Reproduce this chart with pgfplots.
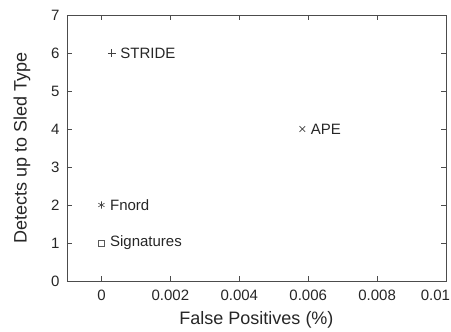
\documentclass[border=0pt]{standalone}
\usepackage{pgfplots}
\pgfplotsset{compat=1.18}
\usepackage{fontspec}
\setmainfont{Liberation Sans}
\begin{document}
\begin{tikzpicture}
\begin{axis}[
  scale only axis,
  width=379pt, height=266pt,
  xmin=-0.001, xmax=0.01,
  ymin=0, ymax=7,
  xtick={0,0.002,0.004,0.006,0.008,0.01},
  xticklabels={0,0.002,0.004,0.006,0.008,\makebox[8pt][r]{0.01}},
  ytick={0,1,...,7},
  tick align=inside,
  tick pos=both,
  major tick length=5pt,
  axis line style={black!70, line width=0.9pt},
  tick style={black!70, line width=0.8pt},
  /pgf/number format/assume math mode=true,
  tick label style={font=\fontsize{15}{17}\selectfont, black!85},
  yticklabel style={xshift=-4pt},
  xticklabel style={yshift=-5pt},
  label style={font=\fontsize{18}{20}\selectfont, black!85},
  xlabel={False Positives (\%)},
  ylabel={Detects up to Sled Type},
  xlabel style={at={(axis description cs:0.5,-0.1466)}, anchor=center},
  ylabel style={at={(axis description cs:-0.1187,0.5)}, anchor=center, rotate=0},
  scaled x ticks=false,
  clip=false,
  nodes near coords,
  point meta=explicit symbolic,
  every node near coord/.append style={anchor=west, font=\fontsize{15}{17}\selectfont, black!85, xshift=5pt},
]
\addplot[only marks, mark=+, mark size=4pt, black!75, mark options={line width=0.6pt}] coordinates {(0.0003,6) [STRIDE]};
\addplot[only marks, mark=x, mark size=4pt, black!75, mark options={line width=0.6pt}] coordinates {(0.00583,4) [APE]};
\addplot[only marks, mark=asterisk, mark size=3.6pt, black!75, mark options={line width=0.6pt}] coordinates {(0,2) [Fnord]};
\addplot[only marks, mark=square, mark size=3.2pt, black!65, mark options={line width=0.6pt}] coordinates {(0,1) [Signatures]};
\end{axis}
\pgfresetboundingbox
\path ([xshift=-67pt,yshift=-50pt]current axis.south west) rectangle ([xshift=5pt,yshift=15pt]current axis.north east);
\end{tikzpicture}
\end{document}
